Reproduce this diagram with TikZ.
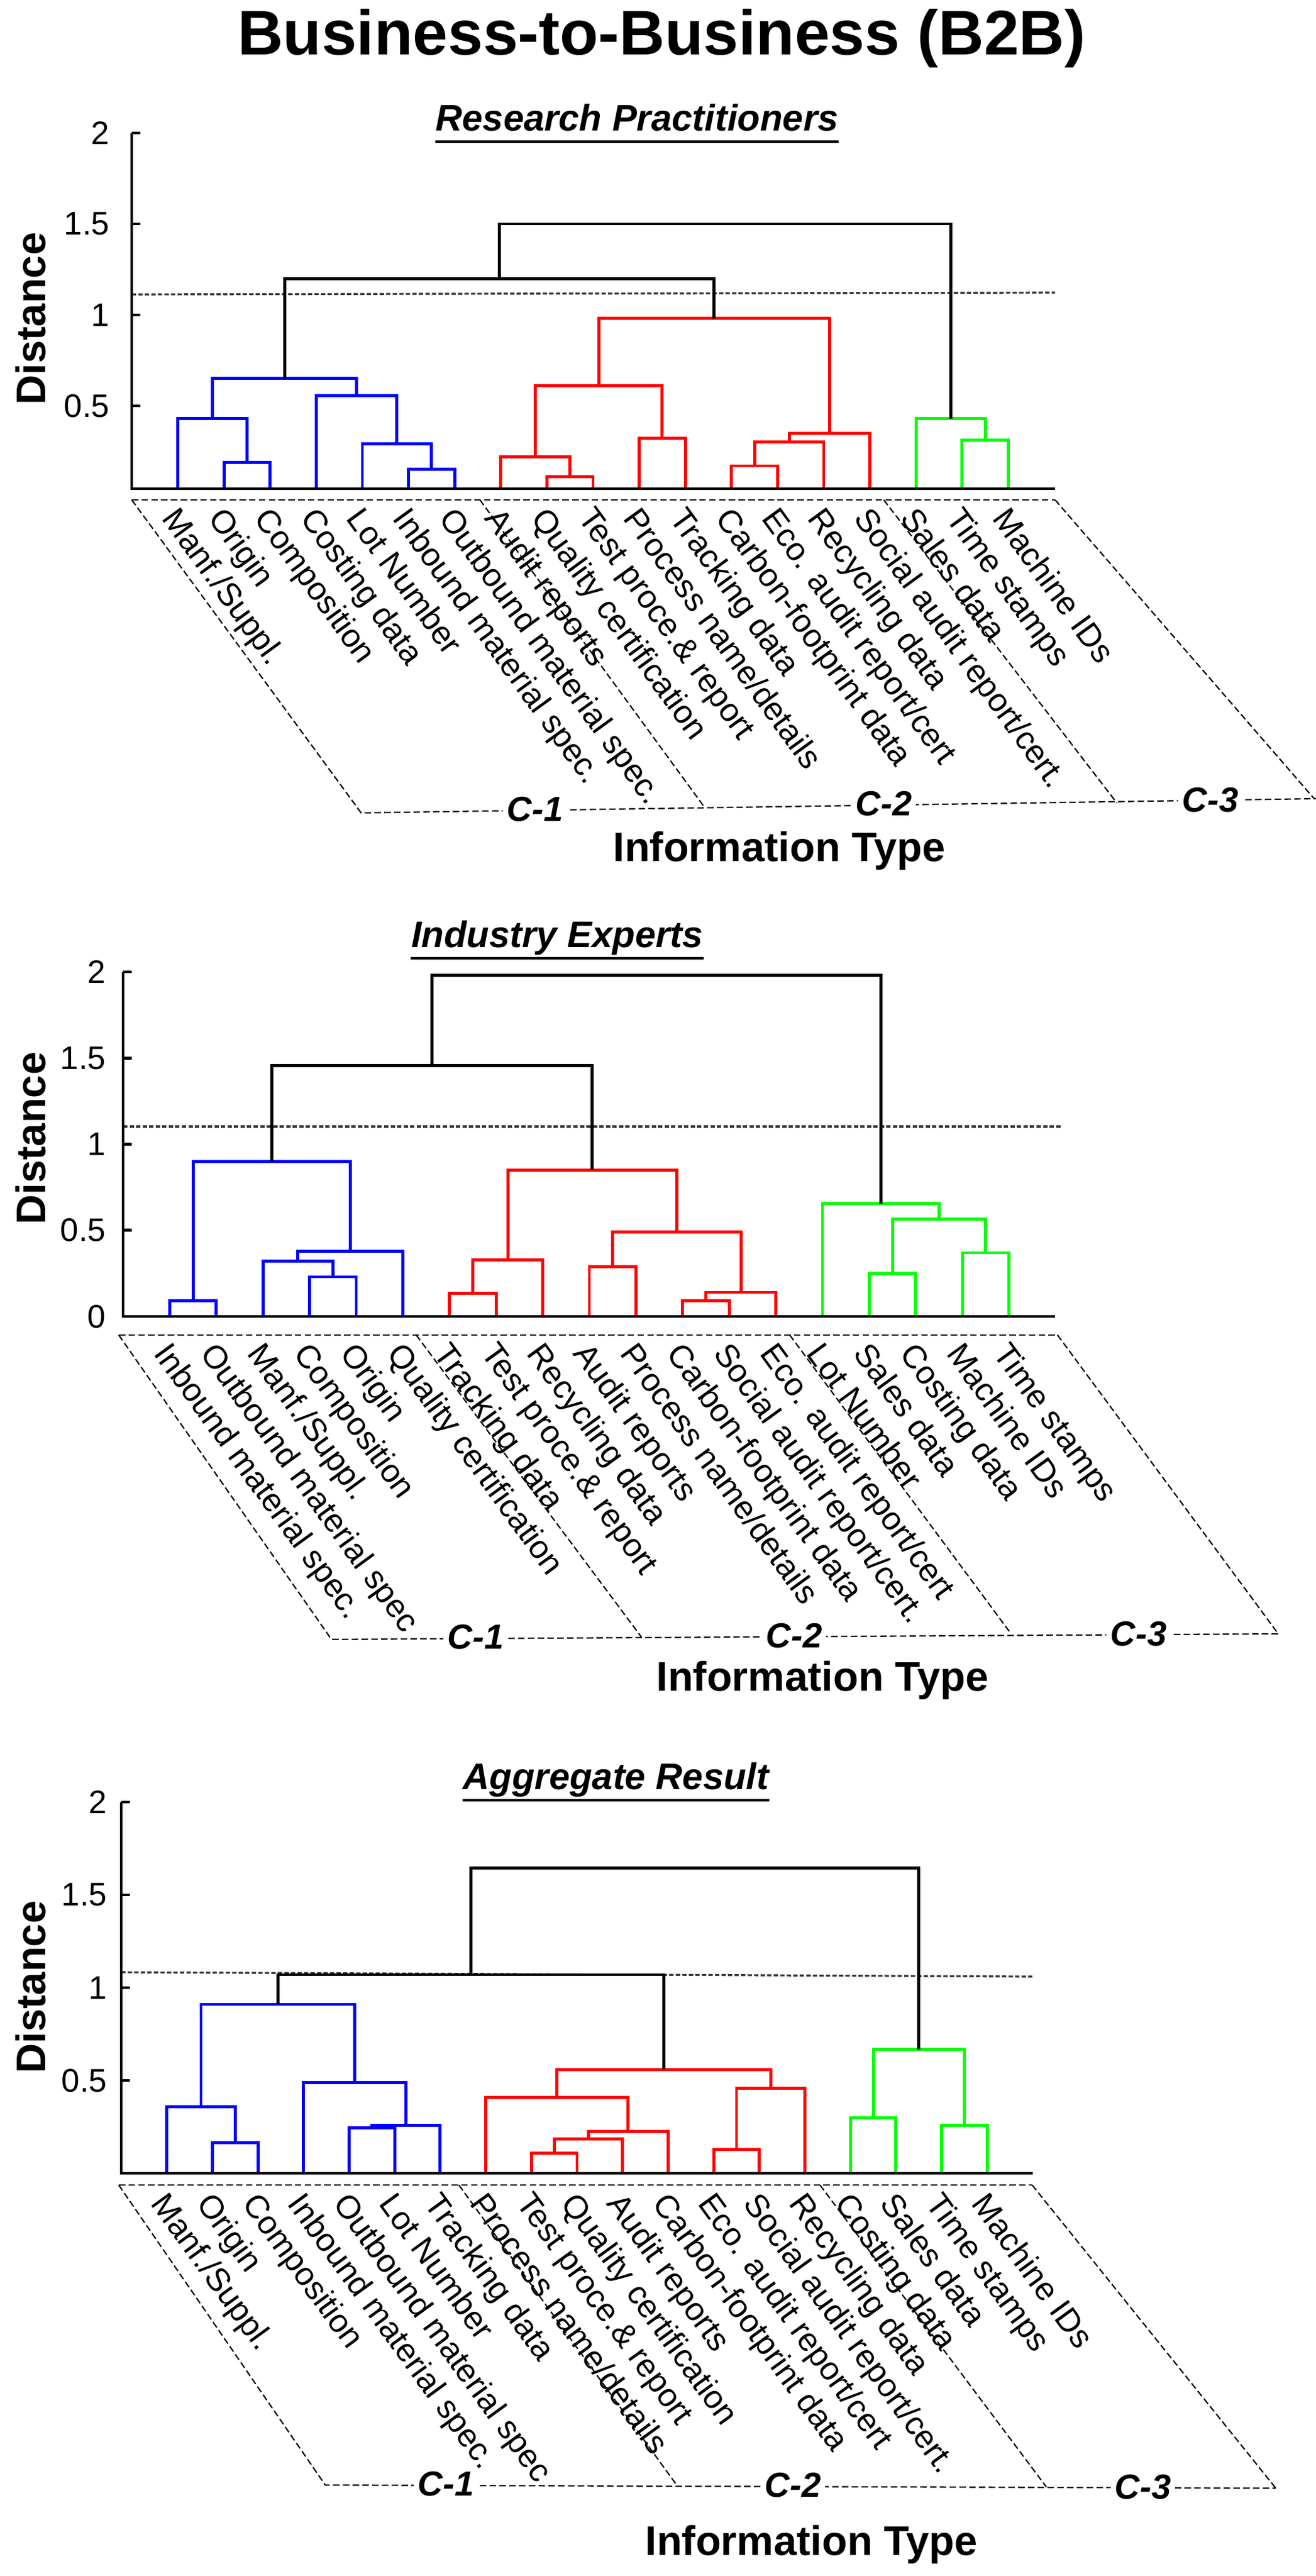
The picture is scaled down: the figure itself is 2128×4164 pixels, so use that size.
\documentclass[tikz,border=0pt]{standalone}
\usepackage{fontspec}
\setmainfont{Liberation Sans}
\newcommand\lk[6]{\draw[dl,#1] ({\ox+\sx*(#2)},{\oy-\sy*(#3)}) -- ({\ox+\sx*(#2)},{\oy-\sy*(#6)}) -- ({\ox+\sx*(#4)},{\oy-\sy*(#6)}) -- ({\ox+\sx*(#4)},{\oy-\sy*(#5)});}
\begin{document}
\begin{tikzpicture}[x=0.01cm,y=-0.01cm,
 dl/.style={line width=1.4pt},
 ax/.style={line width=1.3pt},
 lab/.style={anchor=north west,rotate=-54,inner sep=0pt,font=\fontsize{15}{18}\selectfont},
 tk/.style={anchor=east,inner sep=0pt,font=\fontsize{15}{18}\selectfont},
 dist/.style={rotate=90,inner sep=0pt,font=\fontsize{19}{22}\selectfont\bfseries},
 cl/.style={fill=white,inner sep=2pt,font=\fontsize{16}{19}\selectfont\bfseries\itshape},
 sub/.style={inner sep=0pt,font=\fontsize{17}{20}\selectfont\bfseries\itshape},
 ul/.style={line width=1.3pt},
 dsh/.style={line width=0.6pt,dash pattern=on 3pt off 1.5pt},
 thr/.style={line width=0.9pt,dash pattern=on 2pt off 1pt,black!80}]
\useasboundingbox (0,0) rectangle (2128,4164);
\node[font=\fontsize{29}{34}\selectfont\bfseries] (title) at (1070,62) {Business-to-Business (B2B)};

%% ---------------- Panel 1 ----------------
\def\ox{213}\def\sx{74.6}\def\oy{803}\def\sy{294}\def\hb{0.044}
\node[sub] (s1) at (1030,190) {Research Practitioners};
\draw[ul] ([yshift=-5pt]s1.base west) -- ([yshift=-5pt]s1.base east);
\draw[thr] (213,476) -- (1706,473);
\lk{blue}{2}{\hb}{3}{\hb}{0.19}
\lk{blue}{1}{\hb}{2.5}{0.19}{0.43}
\lk{blue}{6}{\hb}{7}{\hb}{0.15}
\lk{blue}{5}{\hb}{6.5}{0.15}{0.29}
\lk{blue}{4}{\hb}{5.75}{0.29}{0.555}
\lk{blue}{1.75}{0.43}{4.875}{0.555}{0.65}
\lk{red}{9}{\hb}{10}{\hb}{0.11}
\lk{red}{8}{\hb}{9.5}{0.11}{0.22}
\lk{red}{11}{\hb}{12}{\hb}{0.32}
\lk{red}{8.75}{0.22}{11.5}{0.32}{0.61}
\lk{red}{13}{\hb}{14}{\hb}{0.17}
\lk{red}{13.5}{0.17}{15}{\hb}{0.30}
\lk{red}{14.25}{0.30}{16}{\hb}{0.35}
\lk{red}{10.125}{0.61}{15.125}{0.35}{0.98}
\lk{green}{18}{\hb}{19}{\hb}{0.31}
\lk{green}{17}{\hb}{18.5}{0.31}{0.43}
\lk{black}{3.3125}{0.65}{12.625}{0.98}{1.20}
\lk{black}{7.97}{1.20}{17.75}{0.43}{1.50}
\draw[ax] (\ox,{\oy-2*\sy}) -- (\ox,790) -- (1706,790);
\foreach \v in {0.5,1,1.5,2}{\draw[ax] (\ox,{\oy-\sy*\v}) -- ++(14,0);
 \node[tk] (ta\v) at (178,{\oy-\sy*\v}) {\v};}
\node[dist] (d1) at (50,515) {Distance};
\foreach \t [count=\i] in {Manf./Suppl.,Origin,Composition,Costing data,Lot Number,Inbound material spec.,Outbound material spec.,Audit reports,Quality certification,Test proce.\& report,Process name/details,Tracking data,Carbon-footprint data,Eco. audit report/cert,Recycling data,Social audit report/cert.,Sales data,Time stamps,Machine IDs}
 \node[lab] (la\i) at ({\ox+\sx*\i+4},815) {\t};
\draw[dsh] (213,808) -- (1706,808);
\draw[dsh] (213,808) -- (584,1314) -- (2128,1291);
\draw[dsh] (776,808) -- (1140,1306);
\draw[dsh] (1429,808) -- (1806,1298);
\draw[dsh] (1706,808) -- (2125,1291);
\node[cl] (ca1) at (865,1308) {C-1};
\node[cl] (ca2) at (1429,1299) {C-2};
\node[cl] (ca3) at (1957,1293) {C-3};
\node[font=\fontsize{19}{22}\selectfont\bfseries] (ia) at (1260,1375) {Information Type};

%% ---------------- Panel 2 ----------------
\def\ox{199}\def\sx{75.4}\def\oy{2128}\def\sy{278.5}\def\hb{0}
\node[sub] (s2) at (901,1516) {Industry Experts};
\draw[ul] ([yshift=-5pt]s2.base west) -- ([yshift=-5pt]s2.base east);
\draw[thr] (199,1821) -- (1717,1821);
\lk{blue}{1}{\hb}{2}{\hb}{0.09}
\lk{blue}{4}{\hb}{5}{\hb}{0.23}
\lk{blue}{3}{\hb}{4.5}{0.23}{0.32}
\lk{blue}{3.75}{0.32}{6}{\hb}{0.38}
\lk{blue}{1.5}{0.09}{4.875}{0.38}{0.90}
\lk{red}{7}{\hb}{8}{\hb}{0.135}
\lk{red}{7.5}{0.135}{9}{\hb}{0.33}
\lk{red}{10}{\hb}{11}{\hb}{0.29}
\lk{red}{12}{\hb}{13}{\hb}{0.09}
\lk{red}{12.5}{0.09}{14}{\hb}{0.14}
\lk{red}{10.5}{0.29}{13.25}{0.14}{0.49}
\lk{red}{8.25}{0.33}{11.875}{0.49}{0.85}
\lk{green}{16}{\hb}{17}{\hb}{0.25}
\lk{green}{18}{\hb}{19}{\hb}{0.37}
\lk{green}{16.5}{0.25}{18.5}{0.37}{0.565}
\lk{green}{15}{\hb}{17.5}{0.565}{0.655}
\lk{black}{3.1875}{0.90}{10.06}{0.85}{1.455}
\lk{black}{6.62}{1.455}{16.25}{0.655}{1.98}
\draw[ax] (\ox,{\oy-2*\sy}) -- (\ox,\oy) -- (1706,\oy);
\foreach \v in {0,0.5,1,1.5,2}{\draw[ax] (\ox,{\oy-\sy*\v}) -- ++(14,0);
 \node[tk] (tb\v) at (172,{\oy-\sy*\v}) {\v};}
\node[dist] (d2) at (50,1840) {Distance};
\foreach \t [count=\i] in {Inbound material spec.,Outbound material spec,Manf./Suppl.,Composition,Origin,Quality certification,Tracking data,Test proce.\& report,Recycling data,Audit reports,Process name/details,Carbon-footprint data,Social audit report/cert.,Eco. audit report/cert,Lot Number,Sales data,Costing data,Machine IDs,Time stamps}
 \node[lab] (lb\i) at ({\ox+\sx*\i+4},2165) {\t};
\draw[dsh] (192,2158) -- (1710,2158);
\draw[dsh] (192,2158) -- (536,2650) -- (2067,2641);
\draw[dsh] (673,2158) -- (1037,2646);
\draw[dsh] (1277,2158) -- (1635,2641);
\draw[dsh] (1710,2158) -- (2067,2641);
\node[cl] (cb1) at (769,2646) {C-1};
\node[cl] (cb2) at (1284,2644) {C-2};
\node[cl] (cb3) at (1841,2641) {C-3};
\node[font=\fontsize{19}{22}\selectfont\bfseries] (ib) at (1330,2716) {Information Type};

%% ---------------- Panel 3 ----------------
\def\ox{196}\def\sx{73.7}\def\oy{3513}\def\sy{300}\def\hb{0}
\node[sub] (s3) at (996,2877) {Aggregate Result};
\draw[ul] ([yshift=-5pt]s3.base west) -- ([yshift=-5pt]s3.base east);
\draw[thr] (196,3188) -- (1670,3195);
\lk{blue}{2}{\hb}{3}{\hb}{0.165}
\lk{blue}{1}{\hb}{2.5}{0.165}{0.36}
\lk{blue}{5}{\hb}{6}{\hb}{0.245}
\lk{blue}{5.5}{0.245}{7}{\hb}{0.26}
\lk{blue}{4}{\hb}{6.25}{0.26}{0.487}
\lk{blue}{1.75}{0.36}{5.125}{0.487}{0.91}
\lk{red}{9}{\hb}{10}{\hb}{0.107}
\lk{red}{9.5}{0.107}{11}{\hb}{0.185}
\lk{red}{10.25}{0.185}{12}{\hb}{0.225}
\lk{red}{8}{\hb}{11.125}{0.225}{0.41}
\lk{red}{13}{\hb}{14}{\hb}{0.13}
\lk{red}{13.5}{0.13}{15}{\hb}{0.457}
\lk{red}{9.5625}{0.41}{14.25}{0.457}{0.56}
\lk{green}{16}{\hb}{17}{\hb}{0.30}
\lk{green}{18}{\hb}{19}{\hb}{0.26}
\lk{green}{16.5}{0.30}{18.5}{0.26}{0.667}
\lk{black}{3.4375}{0.91}{11.906}{0.56}{1.07}
\lk{black}{7.67}{1.07}{17.5}{0.667}{1.645}
\draw[ax] (\ox,{\oy-2*\sy}) -- (\ox,\oy) -- (1670,\oy);
\foreach \v in {0.5,1,1.5,2}{\draw[ax] (\ox,{\oy-\sy*\v}) -- ++(14,0);
 \node[tk] (tc\v) at (174,{\oy-\sy*\v}) {\v};}
\node[dist] (d3) at (50,3212) {Distance};
\foreach \t [count=\i] in {Manf./Suppl.,Origin,Composition,Inbound material spec.,Outbound material spec,Lot Number,Tracking data,Process name/details,Test proce.\& report,Quality certification,Audit reports,Carbon-footprint data,Eco. audit report/cert,Social audit report/cert.,Recycling data,Costing data,Sales data,Time stamps,Machine IDs}
 \node[lab] (lc\i) at ({\ox+\sx*\i+4},3539) {\t};
\draw[dsh] (192,3532) -- (1669,3532);
\draw[dsh] (192,3532) -- (526,4017) -- (2063,4022);
\draw[dsh] (742,3532) -- (1095,4018);
\draw[dsh] (1326,3532) -- (1692,4020);
\draw[dsh] (1669,3532) -- (2063,4022);
\node[cl] (cc1) at (721,4015) {C-1};
\node[cl] (cc2) at (1282,4017) {C-2};
\node[cl] (cc3) at (1848,4020) {C-3};
\node[font=\fontsize{19}{22}\selectfont\bfseries] (ic) at (1312,4113) {Information Type};
\end{tikzpicture}
\end{document}
